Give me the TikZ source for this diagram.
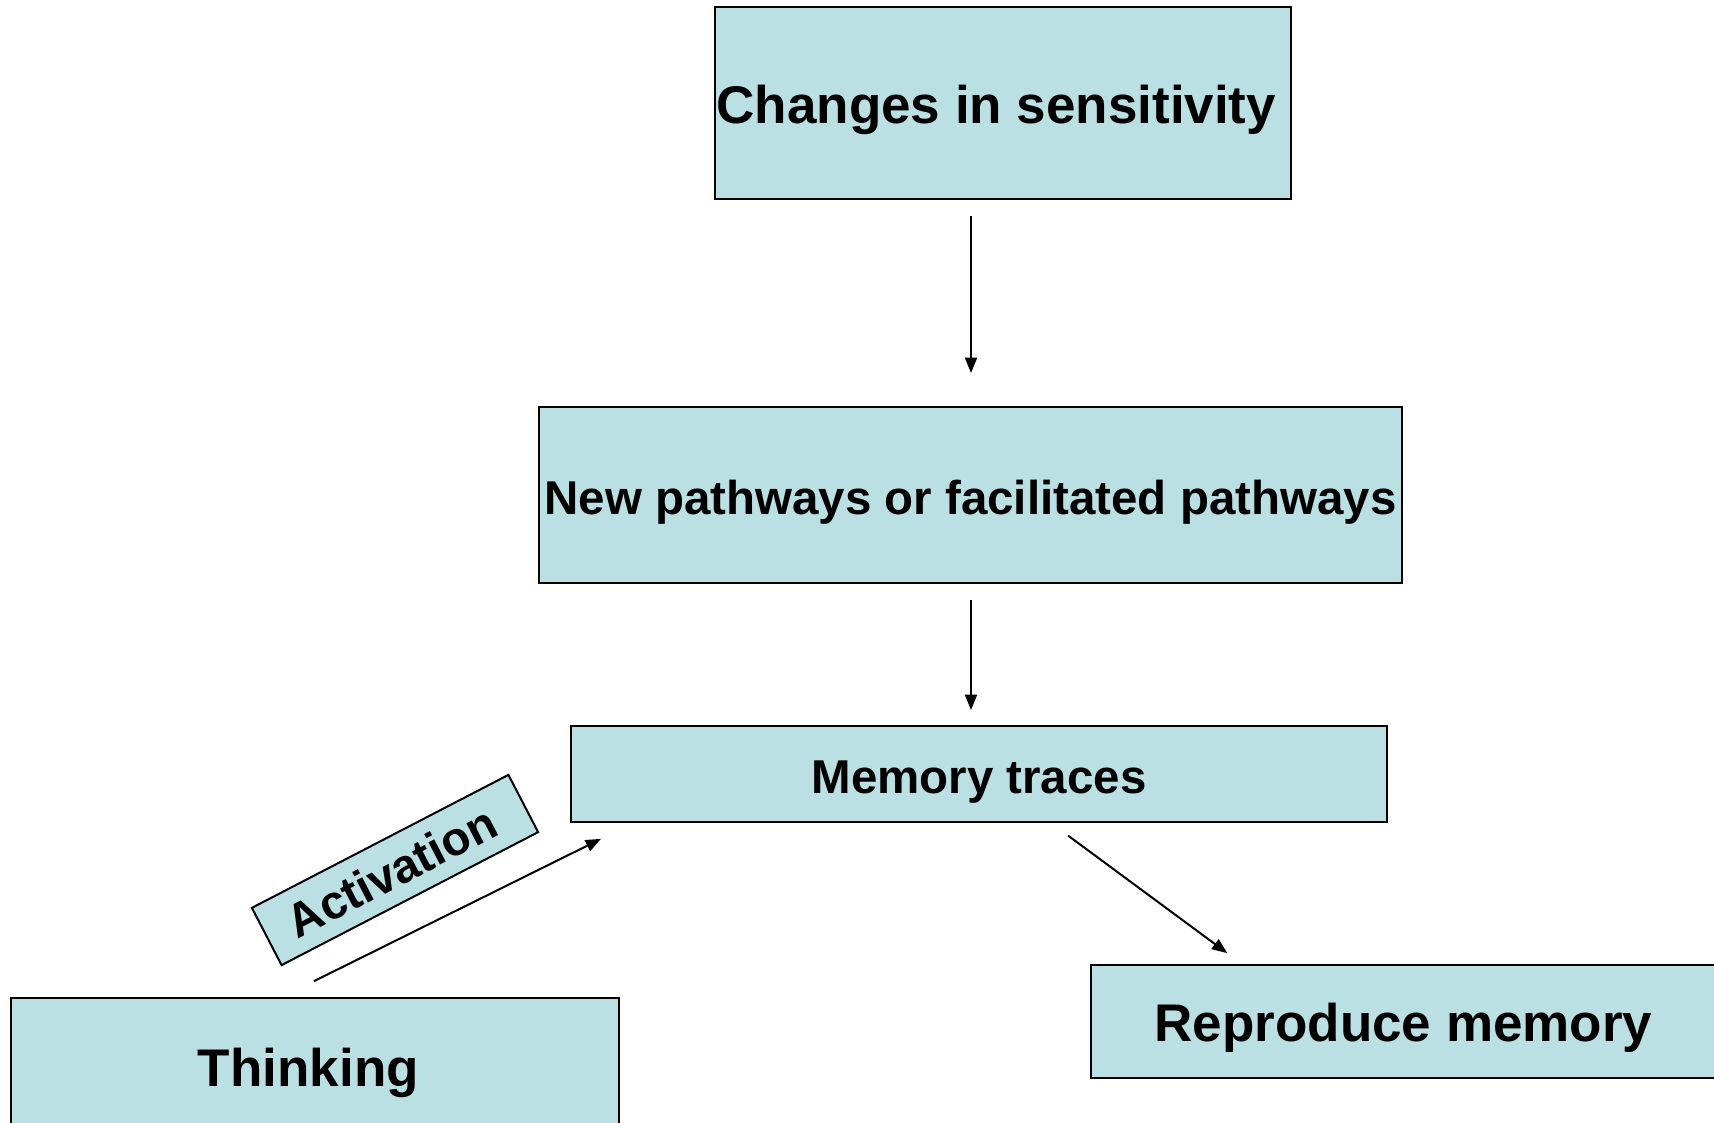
\documentclass[tikz,border=0pt]{standalone}
\usepackage{fontspec}
\setmainfont{Liberation Sans}
\usetikzlibrary{arrows.meta,calc}
\definecolor{boxfill}{RGB}{187,224,227}
\tikzset{
  box/.style={draw=black, line width=1.5pt, fill=boxfill, inner sep=0pt,
    rectangle, align=center, font=\bfseries},
  arr/.style={draw=black, line width=1.5pt,
    -{Triangle[length=11.5pt, width=9pt]}},
  big/.style={font=\bfseries\fontsize{39.75pt}{44pt}\selectfont,
    text height=38pt, text depth=7.4pt},
  mid/.style={font=\bfseries\fontsize{35.6pt}{40pt}\selectfont,
    text height=35pt, text depth=6.5pt},
}
\begin{document}
\begin{tikzpicture}[x=0.75pt, y=-0.75pt]
  \fill[white] (0,0) rectangle (1714,1123);
  \clip (0,0) rectangle (1714,1123);

  % boxes
  \node[box, big, minimum width=576*0.75pt, minimum height=192*0.75pt]
    (sens) at (1003,103) {Changes in sensitivity\hspace{10pt}};
  \node[box, mid, minimum width=863*0.75pt, minimum height=176*0.75pt]
    (path) at (970.5,495) {New pathways or facilitated pathways};
  \node[box, mid, minimum width=816*0.75pt, minimum height=96*0.75pt]
    (trace) at (979,774) {Memory traces};
  \node[box, big, minimum width=625*0.75pt, minimum height=113*0.75pt]
    (repro) at (1403.5,1021.5) {Reproduce memory};
  \node[box, big, minimum width=608*0.75pt, minimum height=136*0.75pt]
    (think) at (315,1066) {Thinking\hspace{10pt}};

  % tilted label box
  \node[box, rotate=27.4, font=\bfseries\fontsize{35.5pt}{40pt}\selectfont,
    minimum width=289*0.75pt, minimum height=64.5*0.75pt]
    (act) at (395,870) {Activation\hspace{6pt}};

  % connector anchors on the box edges
  \coordinate (ax) at (971,0);
  \coordinate (t3) at ([xshift=481*0.75pt]trace.south west);
  \coordinate (r4) at ([xshift=152*0.75pt]repro.north west);
  \coordinate (th) at ([xshift=272*0.75pt]think.north west);
  \coordinate (t1) at ([xshift=63*0.75pt]trace.south west);

  % connectors
  \draw[arr, shorten <=16pt, shorten >=13.7pt] (t3) -- (r4);
  \draw[arr, shorten <=12pt, shorten >=24.75pt] (sens.south -| ax) -- (path.north -| ax);
  \draw[arr, shorten <=12pt, shorten >=11.25pt] (path.south -| ax) -- (trace.north -| ax);
  \draw[arr, shorten <=26.8pt, shorten >=26.8pt] (th) -- (t1);
\end{tikzpicture}
\end{document}
